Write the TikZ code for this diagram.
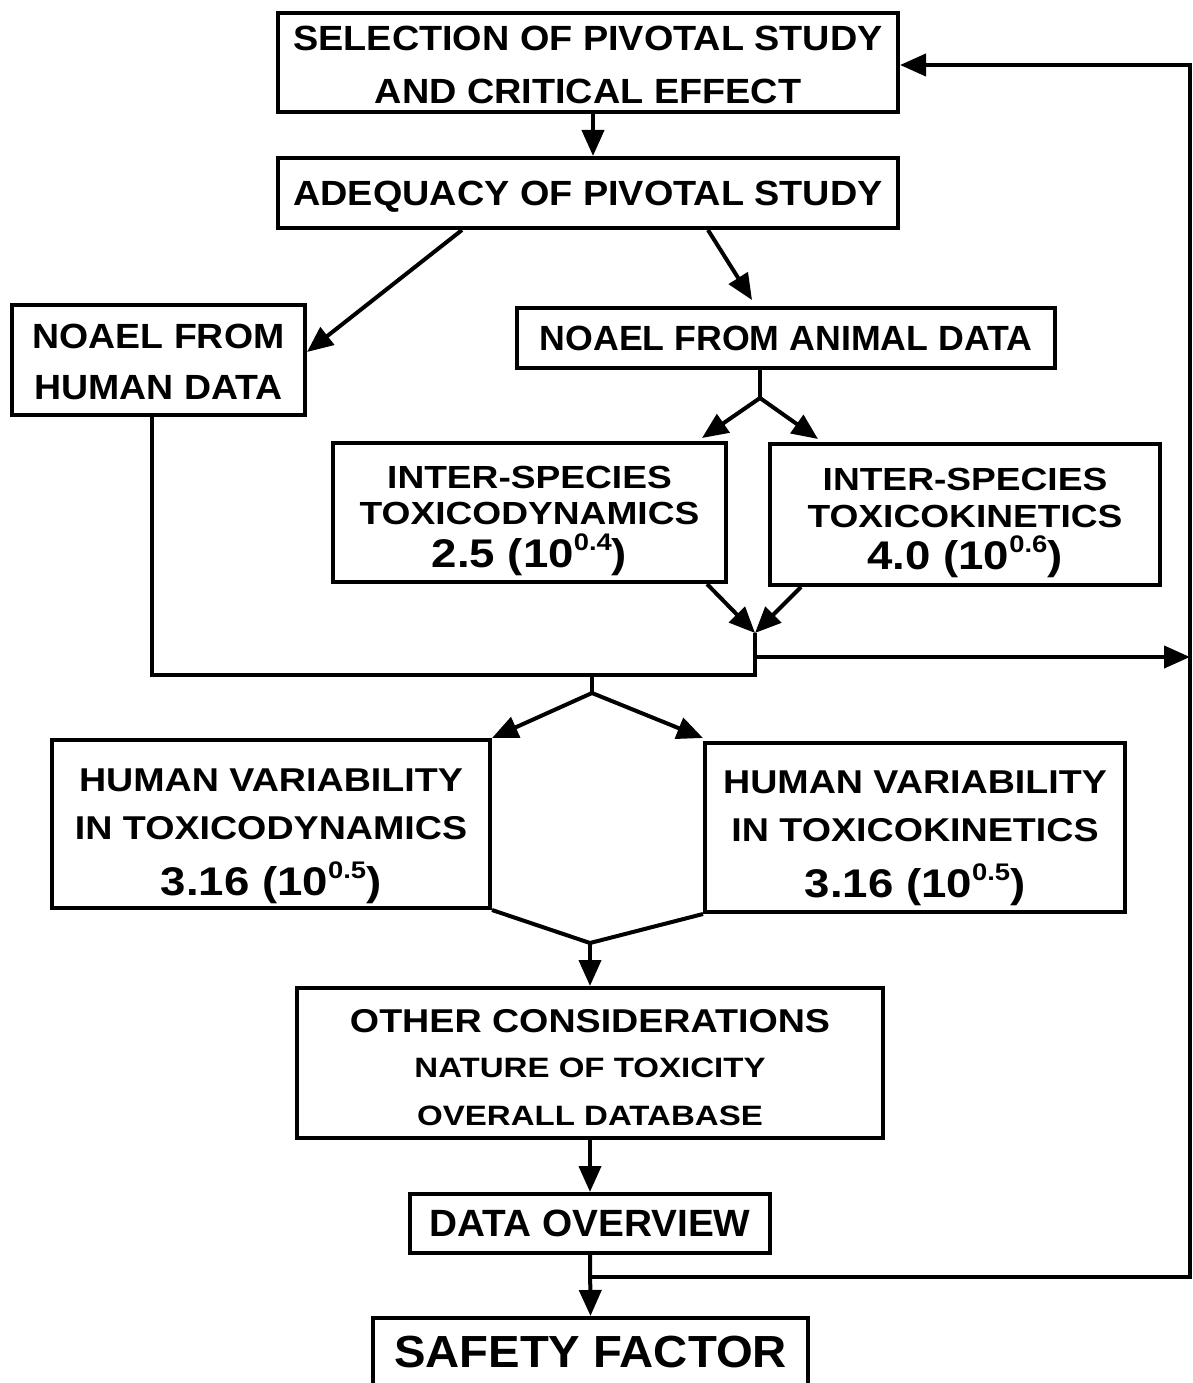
\documentclass[tikz,border=0pt]{standalone}
\usepackage{fontspec}
\setmainfont{Liberation Sans}
\usetikzlibrary{arrows.meta,calc}
\newcommand{\sups}[1]{\raisebox{0.42em}{\fontsize{24}{24}\selectfont #1}}
\newcommand{\fsz}[2]{\fontsize{#1}{#2}\selectfont}
\newcommand{\stf}[1]{\addfontfeature{FakeStretch=#1}}
\newcommand{\tp}[1]{\rule{0pt}{#1}}
\newcommand{\nodp}[1]{\raisebox{0pt}[\height][0pt]{#1}}
\begin{document}
\begin{tikzpicture}[x=1pt,y=-1pt,
  box/.style={draw, line width=4pt, inner sep=0pt, align=center, font=\bfseries},
  ln/.style={line width=4pt},
  arr/.style={line width=4pt, -{Triangle[length=26pt,width=22pt]}}]
\useasboundingbox (0,0) rectangle (1193,1383);
\fill[white] (0,0) rectangle (1193,1383);

\node[box, minimum width=620pt, minimum height=99pt, font=\bfseries\fsz{35}{53}\stf{1.08}] (sel) at (588,62.5)
  {\tp{29pt}SELECTION OF PIVOTAL STUDY\\AND CRITICAL EFFECT};
\node[box, minimum width=620pt, minimum height=70pt, font=\bfseries\fsz{35}{42}\stf{1.08}] (adq) at (588,193)
  {\tp{31pt}ADEQUACY OF PIVOTAL STUDY};
\node[box, minimum width=293pt, minimum height=110pt, font=\bfseries\fsz{35}{51}\stf{1.07}] (hum) at (158.5,360)
  {\tp{28pt}NOAEL FROM\\HUMAN DATA};
\node[box, minimum width=538pt, minimum height=60pt, font=\bfseries\fsz{35}{42}\stf{1.02}] (ani) at (786,338)
  {NOAEL FROM ANIMAL DATA};
\node[box, minimum width=393pt, minimum height=139pt, font=\bfseries\fsz{32}{36}\stf{1.16}] (td) at (529.5,512.5)
  {\tp{31pt}INTER-SPECIES\\TOXICODYNAMICS\\[7pt]\nodp{\fsz{40}{40}\stf{1.14}2.5 (10\sups{0.4})}};
\node[box, minimum width=390pt, minimum height=141pt, font=\bfseries\fsz{32}{37}\stf{1.16}] (tk) at (965,514.5)
  {\tp{31pt}INTER-SPECIES\\TOXICOKINETICS\\[5pt]\nodp{\fsz{40}{40}\stf{1.14}4.0 (10\sups{0.6})}};
\node[box, minimum width=438pt, minimum height=168pt, font=\bfseries\fsz{33}{48}\stf{1.14}] (hvd) at (271,824)
  {\tp{39pt}HUMAN VARIABILITY\\IN TOXICODYNAMICS\\[7.5pt]\nodp{\fsz{40}{40}\stf{1.14}3.16 (10\sups{0.5})}};
\node[box, minimum width=420pt, minimum height=169pt, font=\bfseries\fsz{33}{48}\stf{1.14}] (hvk) at (915,827.5)
  {\tp{36pt}HUMAN VARIABILITY\\IN TOXICOKINETICS\\[7.5pt]\nodp{\fsz{40}{40}\stf{1.14}3.16 (10\sups{0.5})}};
\node[box, minimum width=586pt, minimum height=150pt, font=\bfseries\fsz{28}{48}\stf{1.18}] (oth) at (590,1063)
  {\tp{33pt}{\fsz{33}{48}\stf{1.14}OTHER CONSIDERATIONS}\\[-2.8pt]NATURE OF TOXICITY\\OVERALL DATABASE};
\node[box, minimum width=360pt, minimum height=59pt, font=\bfseries\fsz{38}{44}\stf{1.02}] (dov) at (590,1223.5)
  {DATA OVERVIEW};
\begin{scope}
\clip (0,0) rectangle (1193,1383);
\node[box, minimum width=435pt, minimum height=68pt, font=\bfseries\fsz{45}{50}\stf{1.05}] (saf) at (590.5,1352)
  {SAFETY FACTOR};
\end{scope}

% connectors
\draw[arr] ([xshift=5pt]sel.south) -- ([xshift=5pt]adq.north);
\draw[arr] ([xshift=-126pt]adq.south) -- ([yshift=8pt]hum.east);
\draw[arr] ([xshift=120pt]adq.south) -- ([xshift=-34pt,yshift=6pt]ani.north);
\coordinate (s1) at (760,398);
\draw[ln] ([xshift=-26pt]ani.south) -- (s1);
\draw[arr] (s1) -- ([xshift=-26pt,yshift=3pt]td.north east);
\draw[arr] (s1) -- ([xshift=50pt,yshift=3pt]tk.north west);
\coordinate (j1) at (755,633);
\draw[arr] ([xshift=-21pt]td.south east) -- (j1);
\draw[arr] ([xshift=33pt]tk.south west) -- (j1);
\coordinate (j2) at (755,675);
\draw[ln] ([xshift=-6.5pt]hum.south) |- (j2) -- (j1);
\coordinate (j3) at (755,657);
\coordinate (r1) at (1190,657);
\draw[arr] (j3) -- (r1);
\coordinate (b1) at (590,1277);
\coordinate (rt) at (1190,65);
\draw[arr] (b1) -| (rt) -- ([yshift=-2.5pt]sel.east);
\coordinate (s2) at (592,693);
\draw[ln] (j2 -| s2) -- (s2);
\draw[arr] (s2) -- (hvd.north east);
\draw[arr] (s2) -- ([yshift=3pt]hvk.north west);
\coordinate (s3) at (590,943);
\draw[ln] (hvd.south east) -- (s3) -- (hvk.south west);
\draw[arr] (s3) -- (oth.north);
\draw[arr] (oth.south) -- (dov.north);
\draw[arr] (dov.south) -- (saf.north);
\end{tikzpicture}
\end{document}
